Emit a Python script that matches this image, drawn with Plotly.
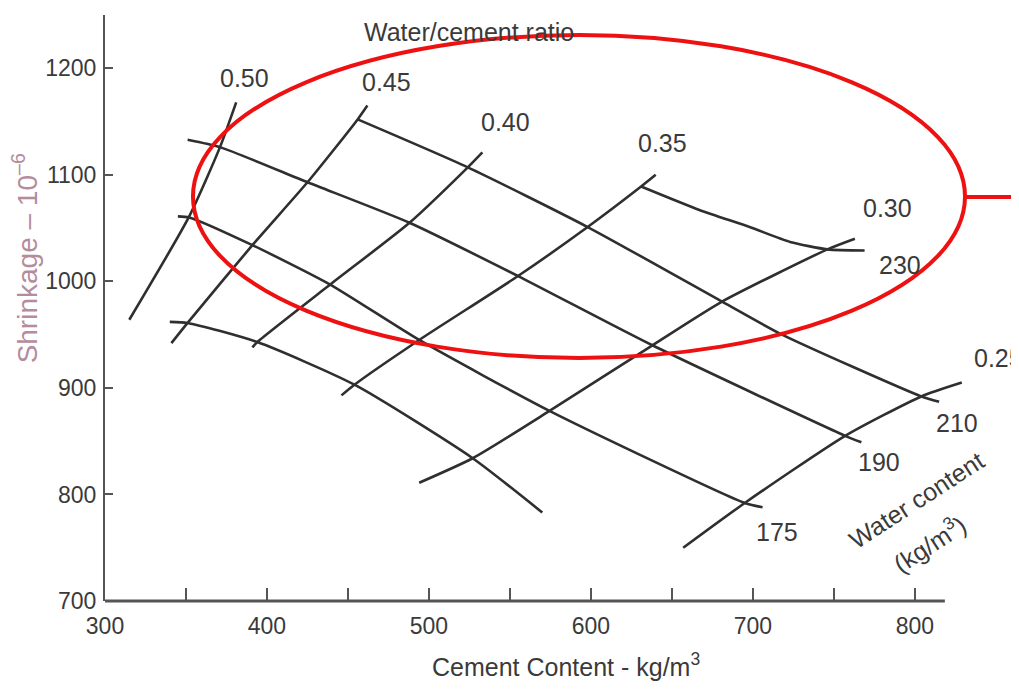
import plotly.graph_objects as go

# ---- data (cement content kg/m3, shrinkage 1e-6) ----
wc_ratios = ["0.50", "0.45", "0.40", "0.35", "0.30", "0.25"]
wc050_x = [315, 352, 371, 381]
wc050_y = [964, 1061, 1126, 1168]
wc045_x = [341, 351, 391, 425, 456, 462]
wc045_y = [942, 961, 1034, 1093, 1152, 1165]
wc040_x = [391, 394, 439, 488, 524, 533]
wc040_y = [938, 943, 997, 1055, 1107, 1121]
wc035_x = [446, 454, 494, 555, 598, 631, 640]
wc035_y = [893, 903, 945, 1005, 1051, 1089, 1100]
wc030_x = [494, 527, 573, 638, 681, 746, 763]
wc030_y = [811, 834, 877, 940, 981, 1030, 1040]
wc025_x = [657, 695, 757, 804, 829]
wc025_y = [750, 792, 855, 892, 905]

water_contents = ["230", "210", "190", "175", ""]
w230_x = [631, 667, 698, 723, 746, 769]
w230_y = [1089, 1067, 1051, 1037, 1030, 1029]
w210_x = [456, 524, 598, 681, 718, 804, 815]
w210_y = [1152, 1107, 1051, 981, 950, 892, 887]
w190_x = [351, 371, 425, 488, 555, 638, 757, 767]
w190_y = [1133, 1126, 1093, 1055, 1005, 940, 855, 849]
w175_x = [345, 352, 391, 439, 494, 575, 695, 706]
w175_y = [1061, 1060, 1034, 997, 945, 878, 792, 788]
wlow_x = [340, 351, 394, 454, 527, 570]
wlow_y = [962, 961, 943, 903, 834, 783]

x_tickvals = [300, 400, 500, 600, 700, 800]
x_minor_tickvals = [350, 450, 550, 650, 750]
y_tickvals = [700, 800, 900, 1000, 1100, 1200]

LINE = "#2f2f2f"
TXT = "#3a3a3a"
FONT = "Liberation Sans, Arial, Helvetica, sans-serif"

fig = go.Figure()
series = [
    (wc050_x, wc050_y), (wc045_x, wc045_y), (wc040_x, wc040_y),
    (wc035_x, wc035_y), (wc030_x, wc030_y), (wc025_x, wc025_y),
    (w230_x, w230_y), (w210_x, w210_y), (w190_x, w190_y),
    (w175_x, w175_y), (wlow_x, wlow_y),
]
for xs, ys in series:
    fig.add_trace(go.Scatter(x=xs, y=ys, mode="lines",
                             line=dict(color=LINE, width=2.6, shape="spline", smoothing=0.6),
                             hoverinfo="skip", showlegend=False))

labels = [
    ("Water/cement ratio", 525, 1234, 25),
    ("0.50", 386, 1191, 25), ("0.45", 474, 1187, 25), ("0.40", 547, 1150, 25),
    ("0.35", 644, 1130, 25), ("0.30", 783, 1069, 25),
    ("230", 791, 1015, 25), ("210", 826, 867, 25), ("190", 778, 830, 25),
    ("175", 715, 765, 25),
]
for t, x, y, s in labels:
    fig.add_annotation(x=x, y=y, text=t, showarrow=False, xref="x", yref="y",
                       xanchor="center", yanchor="middle",
                       font=dict(family=FONT, size=s, color=TXT))
fig.add_annotation(x=835, y=928, text="0.25", showarrow=False, xanchor="left",
                   yanchor="middle", font=dict(family=FONT, size=25, color=TXT))
fig.add_annotation(x=801, y=795, text="Water content", showarrow=False, textangle=-33,
                   xanchor="center", yanchor="middle",
                   font=dict(family=FONT, size=25, color=TXT))
fig.add_annotation(x=809, y=754, text="(kg/m<sup>3</sup>)", showarrow=False, textangle=-33,
                   xanchor="center", yanchor="middle",
                   font=dict(family=FONT, size=25, color=TXT))

# axis titles
fig.add_annotation(x=0.508, y=-0.109, xref="paper", yref="paper",
                   xanchor="center", yanchor="middle",
                   text="Cement Content - kg/m<sup>3</sup>", showarrow=False,
                   font=dict(family=FONT, size=25, color=TXT))
fig.add_annotation(x=-0.088, y=0.585, xref="paper", yref="paper", textangle=-90,
                   xanchor="center", yanchor="middle",
                   text="Shrinkage – 10<sup>–6</sup>", showarrow=False,
                   font=dict(family=FONT, size=28, color="#b48c9b"))

# x axis line (shorter than plotting range)
fig.add_shape(type="line", xref="paper", yref="paper", x0=0, x1=0.926, y0=0, y1=0,
              line=dict(color="#555555", width=3))
# red highlight ellipse and pointer line
fig.add_shape(type="circle", xref="paper", yref="paper",
              x0=0.097, x1=0.9482, y0=0.4147, y1=0.9659,
              line=dict(color="#ee1111", width=4))
fig.add_shape(type="line", xref="paper", yref="paper",
              x0=0.9482, x1=1.01, y0=0.6894, y1=0.6894,
              line=dict(color="#ee1111", width=4))

fig.update_layout(
    width=1019, height=691,
    margin=dict(l=97, r=15, t=7, b=98),
    paper_bgcolor="white", plot_bgcolor="white",
    font=dict(family=FONT, size=23, color=TXT),
    xaxis=dict(range=[300, 860], tickvals=x_tickvals,
               ticks="inside", ticklen=13, tickwidth=1.5, tickcolor="#555555",
               minor=dict(tickvals=x_minor_tickvals, ticks="inside", ticklen=13,
                          tickwidth=1.5, tickcolor="#555555"),
               showline=False, showgrid=False, zeroline=False,
               ticklabelstandoff=9,
               tickfont=dict(family=FONT, size=23, color=TXT)),
    yaxis=dict(range=[700, 1250], tickvals=y_tickvals,
               ticks="inside", ticklen=8, tickwidth=1.5, tickcolor="#555555",
               showline=True, linecolor="#555555", linewidth=2,
               showgrid=False, zeroline=False, ticklabelstandoff=2,
               tickfont=dict(family=FONT, size=23, color=TXT)),
)

fig.write_html("out.html")
